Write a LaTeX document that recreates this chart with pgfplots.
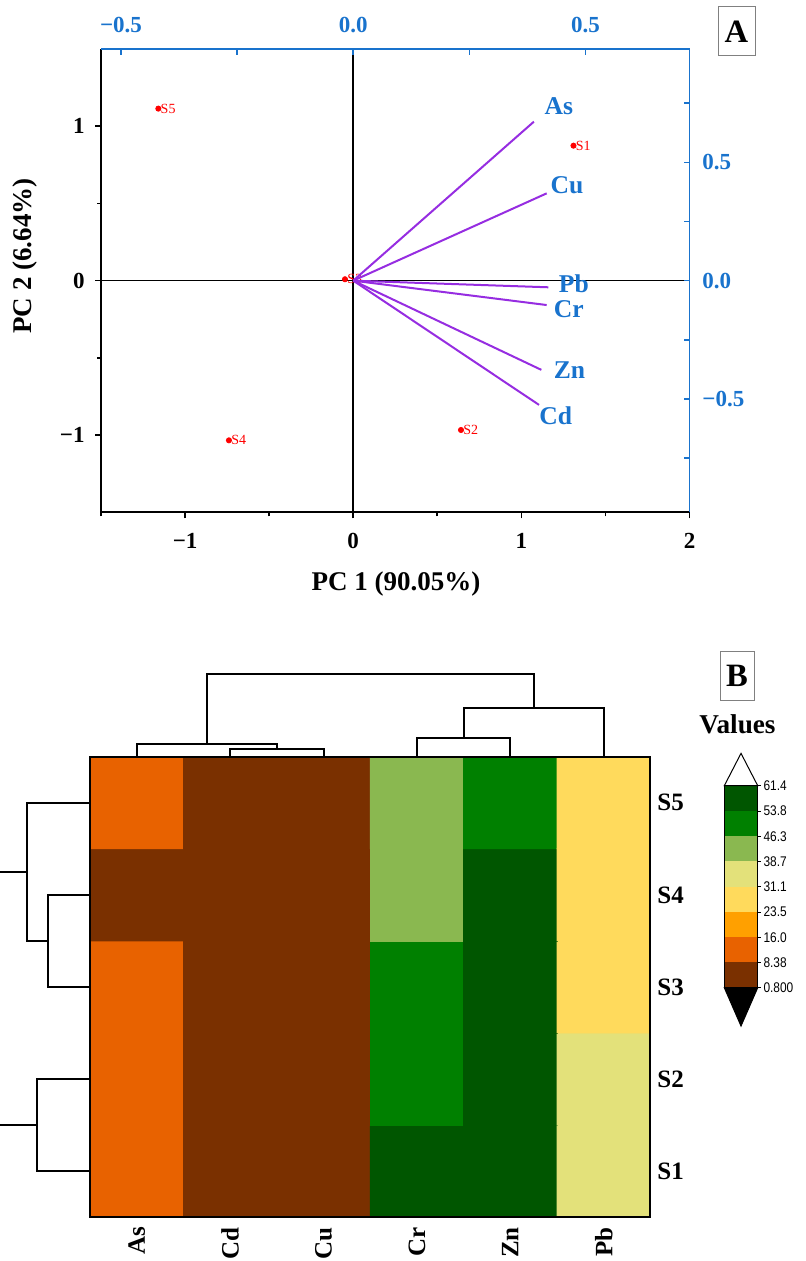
\documentclass[border=0pt]{standalone}
\usepackage{pgfplots}
\pgfplotsset{compat=1.18}
\usepackage{fontspec}
\setmainfont{Liberation Serif}
\newfontfamily\narrowsans[FakeStretch=0.85]{Liberation Sans}

\definecolor{pcblue}{RGB}{25,115,205}
\definecolor{ldpurple}{RGB}{150,45,225}
% binned heat colours, low -> high
\definecolor{cb0}{RGB}{122,48,0}
\definecolor{cb1}{RGB}{232,98,0}
\definecolor{cb2}{RGB}{255,160,0}
\definecolor{cb3}{RGB}{255,218,92}
\definecolor{cb4}{RGB}{227,225,122}
\definecolor{cb5}{RGB}{138,184,80}
\definecolor{cb6}{RGB}{0,128,0}
\definecolor{cb7}{RGB}{0,86,0}

\pgfplotsset{
  dend/.style={black,line width=1pt,mark=none,line join=miter},
  ldline/.style={ldpurple,line width=1pt,mark=none},
}

\begin{document}
\begin{tikzpicture}
\path[use as bounding box] (0,0) rectangle (403pt,-630.5pt);

% ---------- panel A: PCA biplot ----------
\begin{axis}[
  at={(50.5pt,-256.15pt)},anchor=south west,scale only axis,
  width=294.25pt,height=231.65pt,
  xmin=-1.5,xmax=2,ymin=-1.5,ymax=1.5,
  axis x line*=bottom,axis y line*=left,
  axis line style={line width=1pt,-},
  xtick={-1,0,1,2},xticklabels={−1,0,1,2},minor xtick={-1.5,-0.5,0.5,1.5},
  ytick={-1,0,1},yticklabels={−1,0,1},minor ytick={-0.5,0.5},
  tick align=outside,major tick length=3pt,minor tick length=2pt,
  tick style={black,line width=0.8pt},
  tick label style={font=\bfseries\fontsize{11.5}{13}\selectfont,inner sep=0pt},
  xticklabel style={anchor=north,yshift=-7.3pt},
  yticklabel style={anchor=east,xshift=-5pt},
  clip=false,
]
\addplot[black,line width=0.75pt,mark=none] coordinates {(-1.5,0) (2,0)};
\addplot[black,line width=0.75pt,mark=none] coordinates {(0,-1.5) (0,1.5)};
\addplot[only marks,mark=*,mark size=1.3pt,red,
  point meta=explicit symbolic,nodes near coords,
  nodes near coords style={anchor=west,inner sep=0pt,xshift=1pt,text=red,
    font=\fontsize{7}{8}\selectfont}]
  coordinates {(1.310,0.874) [S1] (0.641,-0.967) [S2] (-0.049,0.009) [S3]
               (-0.739,-1.034) [S4] (-1.159,1.114) [S5]};
\end{axis}

\begin{axis}[
  at={(50.5pt,-256.15pt)},anchor=south west,scale only axis,
  width=294.25pt,height=231.65pt,
  xmin=-0.543,xmax=0.724,ymin=-0.979,ymax=0.979,
  axis x line*=top,axis y line*=right,
  axis line style={pcblue,line width=0.8pt,-},
  xtick={-0.5,0,0.5},xticklabels={−0.5,0.0,0.5},minor xtick={-0.25,0.25},
  ytick={-0.5,0,0.5},yticklabels={−0.5,0.0,0.5},minor ytick={-0.75,-0.25,0.25,0.75},
  tick align=inside,major tick length=3pt,minor tick length=3pt,
  tick style={pcblue,line width=0.8pt},
  tick label style={font=\bfseries\fontsize{11.5}{13}\selectfont,text=pcblue,inner sep=0pt},
  xticklabel style={anchor=south,yshift=8pt},
  yticklabel style={anchor=west,xshift=6.25pt},
  clip=false,
]
\addplot[ldline] coordinates {(0,0) (0.389,0.672)};
\addplot[ldline] coordinates {(0,0) (0.4165,0.369)};
\addplot[ldline] coordinates {(0,0) (0.420,-0.028)};
\addplot[ldline] coordinates {(0,0) (0.4165,-0.103)};
\addplot[ldline] coordinates {(0,0) (0.405,-0.377)};
\addplot[ldline] coordinates {(0,0) (0.400,-0.525)};
\begin{scope}[every node/.style={anchor=west,inner sep=0pt,text=pcblue,
    font=\bfseries\fontsize{12.8}{14}\selectfont}]
\node at (axis cs:0.411,0.736) {As};
\node at (axis cs:0.424,0.404) {Cu};
\node at (axis cs:0.442,-0.014) {Pb};
\node at (axis cs:0.431,-0.120) {Cr};
\node at (axis cs:0.431,-0.377) {Zn};
\node at (axis cs:0.400,-0.572) {Cd};
\end{scope}
\end{axis}

\node[anchor=base,font=\bfseries\fontsize{13.5}{15}\selectfont] at (198pt,-295.3pt) {PC 1 (90.05\%)};
\node[anchor=base,rotate=90,font=\bfseries\fontsize{13.5}{15}\selectfont] at (15.85pt,-128pt) {PC 2 (6.64\%)};
\node[draw=gray,line width=0.5pt,minimum width=18.5pt,minimum height=24.5pt,inner sep=0pt,
  font=\bfseries\fontsize{16.3}{18}\selectfont] at (368.25pt,-15.75pt) {A};

% ---------- panel B: clustered heat map ----------
\begin{axis}[
  at={(45pt,-608.65pt)},anchor=south west,scale only axis,
  width=280.2pt,height=230.3pt,
  xmin=0,xmax=6,ymin=0,ymax=5,enlargelimits=false,clip=false,
  axis on top,axis line style={line width=1pt},
  xtick={0.5,1.5,2.5,3.5,4.5,5.5},xticklabels={As,Cd,Cu,Cr,Zn,Pb},
  ytick={0.5,1.5,2.5,3.5,4.5},yticklabels={S1,S2,S3,S4,S5},
  yticklabel pos=right,major tick length=0pt,
  tick label style={font=\bfseries\fontsize{12.5}{14}\selectfont},
  xticklabel style={rotate=90,anchor=east,inner xsep=4.7pt,inner ysep=0pt},
  yticklabel style={anchor=west,inner xsep=3.3pt,inner ysep=0pt},
  colormap={heat}{color=(cb0) color=(cb1) color=(cb2) color=(cb3)
                  color=(cb4) color=(cb5) color=(cb6) color=(cb7)},
  colormap access=direct,
]
\addplot[matrix plot*,mesh/cols=6,
  point meta={floor((\thisrow{v}-0.8)/7.575)}] table[x=x,y=y] {
x y v
0.5 0.5 12
1.5 0.5 3
2.5 0.5 3
3.5 0.5 57
4.5 0.5 58
5.5 0.5 35
0.5 1.5 12
1.5 1.5 3
2.5 1.5 3
3.5 1.5 50
4.5 1.5 57
5.5 1.5 35
0.5 2.5 12
1.5 2.5 3
2.5 2.5 3
3.5 2.5 50
4.5 2.5 57
5.5 2.5 27
0.5 3.5 5
1.5 3.5 3
2.5 3.5 3
3.5 3.5 42
4.5 3.5 57
5.5 3.5 27
0.5 4.5 12
1.5 4.5 3
2.5 4.5 3
3.5 4.5 42
4.5 4.5 50
5.5 4.5 27
};
% column dendrogram
\addplot[dend] coordinates {(1.5,5) (1.5,5.087) (2.5,5.087) (2.5,5)};
\addplot[dend] coordinates {(0.5,5) (0.5,5.141) (2.0,5.141) (2.0,5.087)};
\addplot[dend] coordinates {(3.5,5) (3.5,5.203) (4.5,5.203) (4.5,5)};
\addplot[dend] coordinates {(4.0,5.203) (4.0,5.525) (5.5,5.525) (5.5,5)};
\addplot[dend] coordinates {(1.25,5.141) (1.25,5.895) (4.75,5.895) (4.75,5.525)};
% row dendrogram
\addplot[dend] coordinates {(0,3.5) (-0.446,3.5) (-0.446,2.5) (0,2.5)};
\addplot[dend] coordinates {(0,4.5) (-0.678,4.5) (-0.678,3.0) (-0.446,3.0)};
\addplot[dend] coordinates {(-0.678,3.75) (-0.964,3.75)};
\addplot[dend] coordinates {(0,1.5) (-0.564,1.5) (-0.564,0.5) (0,0.5)};
\addplot[dend] coordinates {(-0.564,1.0) (-0.964,1.0)};
\end{axis}

% colour scale
\begin{axis}[
  at={(362.15pt,-493.85pt)},anchor=south west,scale only axis,
  width=16.7pt,height=101pt,
  xmin=0,xmax=1,ymin=0.8,ymax=61.4,clip=false,
  hide x axis,axis y line*=right,axis line style={line width=0.4pt,-},
  ytick={0.8,8.375,15.95,23.525,31.1,38.675,46.25,53.825,61.4},
  yticklabels={0.800,8.38,16.0,23.5,31.1,38.7,46.3,53.8,61.4},
  tick align=outside,major tick length=1.5pt,tick style={black,line width=0.4pt},
  yticklabel style={font=\narrowsans\fontsize{7}{8}\selectfont,anchor=west,inner sep=0pt,xshift=1.2pt},
]
\addplot[fill=cb0,draw=none] coordinates {(0,0.8) (1,0.8) (1,8.375) (0,8.375)} -- cycle;
\addplot[fill=cb1,draw=none] coordinates {(0,8.375) (1,8.375) (1,15.95) (0,15.95)} -- cycle;
\addplot[fill=cb2,draw=none] coordinates {(0,15.95) (1,15.95) (1,23.525) (0,23.525)} -- cycle;
\addplot[fill=cb3,draw=none] coordinates {(0,23.525) (1,23.525) (1,31.1) (0,31.1)} -- cycle;
\addplot[fill=cb4,draw=none] coordinates {(0,31.1) (1,31.1) (1,38.675) (0,38.675)} -- cycle;
\addplot[fill=cb5,draw=none] coordinates {(0,38.675) (1,38.675) (1,46.25) (0,46.25)} -- cycle;
\addplot[fill=cb6,draw=none] coordinates {(0,46.25) (1,46.25) (1,53.825) (0,53.825)} -- cycle;
\addplot[fill=cb7,draw=none] coordinates {(0,53.825) (1,53.825) (1,61.4) (0,61.4)} -- cycle;
\addplot[draw=black,line width=0.4pt,mark=none] coordinates {(0,0.8) (1,0.8) (1,61.4) (0,61.4)} -- cycle;
\addplot[fill=white,draw=black,line width=0.5pt,mark=none] coordinates {(0,61.4) (1,61.4) (0.5,71.1)} -- cycle;
\addplot[fill=black,draw=black,line width=0.5pt,mark=none] coordinates {(0,0.8) (1,0.8) (0.5,-10.7)} -- cycle;
\end{axis}

\node[anchor=base,font=\bfseries\fontsize{13.6}{15}\selectfont] at (368.75pt,-366.5pt) {Values};
\node[draw=gray,line width=0.5pt,minimum width=17pt,minimum height=24.5pt,inner sep=0pt,
  font=\bfseries\fontsize{16.3}{18}\selectfont] at (368.5pt,-338pt) {B};
\end{tikzpicture}
\end{document}
